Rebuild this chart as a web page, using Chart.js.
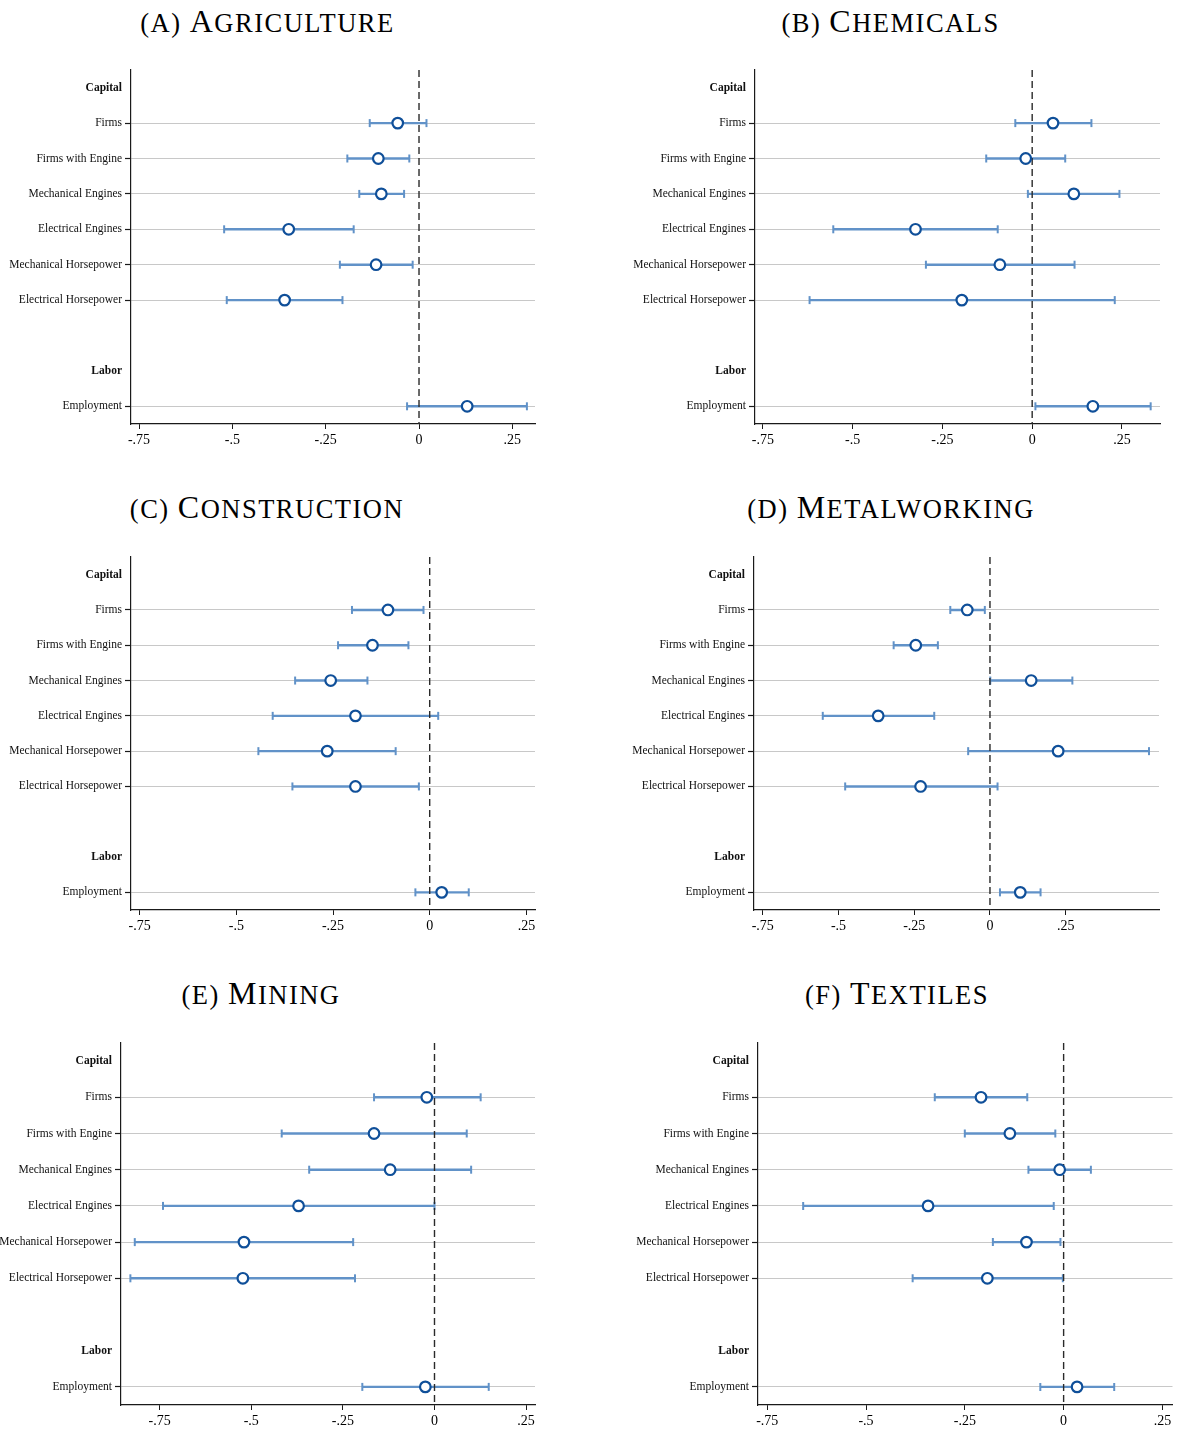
<!DOCTYPE html>
<html>
<head>
<meta charset="utf-8">
<script src="https://cdn.jsdelivr.net/npm/chart.js@4/dist/chart.umd.min.js"></script>
<style>
  html, body { margin: 0; padding: 0; background: #fff; }
  body { width: 1180px; height: 1430px; position: relative; overflow: hidden;
         font-family: 'Liberation Serif', 'Times New Roman', serif; }
  canvas { position: absolute; }
  .ttl { position: absolute; transform: translate(-50%, -50%); white-space: nowrap;
         color: #000; letter-spacing: 1.5px; line-height: 1; }
  .ttl .cap { font-size: 32px; }
  .ttl .sc { font-size: 26.5px; }
</style>
</head>
<body>
<script>
// ---- data ----
const panelLetters = ['A', 'B', 'C', 'D', 'E', 'F'];
const sectorNames = ['Agriculture', 'Chemicals', 'Construction', 'Metalworking', 'Mining', 'Textiles'];

const rowLabels = ['Capital', 'Firms', 'Firms with Engine', 'Mechanical Engines', 'Electrical Engines',
                   'Mechanical Horsepower', 'Electrical Horsepower', '', 'Labor', 'Employment'];
const headerRows = ['Capital', 'Labor'];
const variables = ['Firms', 'Firms with Engine', 'Mechanical Engines', 'Electrical Engines',
                   'Mechanical Horsepower', 'Electrical Horsepower', 'Employment'];

const xTickValues = [-0.75, -0.5, -0.25, 0, 0.25];
const xTickLabels = ['-.75', '-.5', '-.25', '0', '.25'];

// point estimates and 95% confidence bounds, in the order of `variables`
const agricultureCoef = [-0.057, -0.109, -0.101, -0.349, -0.115, -0.360, 0.129];
const agricultureLo   = [-0.132, -0.192, -0.160, -0.522, -0.212, -0.515, -0.032];
const agricultureHi   = [ 0.020, -0.026, -0.040, -0.175, -0.017, -0.205, 0.289];

const chemicalsCoef = [ 0.058, -0.018,  0.116, -0.325, -0.090, -0.196, 0.169];
const chemicalsLo   = [-0.047, -0.128, -0.012, -0.554, -0.296, -0.620, 0.009];
const chemicalsHi   = [ 0.165,  0.092,  0.243, -0.096,  0.118,  0.230, 0.330];

const constructionCoef = [-0.108, -0.148, -0.256, -0.192, -0.265, -0.192,  0.031];
const constructionLo   = [-0.201, -0.237, -0.348, -0.406, -0.443, -0.355, -0.037];
const constructionHi   = [-0.016, -0.055, -0.161,  0.022, -0.088, -0.028,  0.101];

const metalworkingCoef = [-0.075, -0.245, 0.136, -0.369,  0.225, -0.229, 0.100];
const metalworkingLo   = [-0.131, -0.318, 0.001, -0.552, -0.072, -0.478, 0.033];
const metalworkingHi   = [-0.017, -0.172, 0.272, -0.184,  0.525,  0.025, 0.167];

const miningCoef = [-0.021, -0.165, -0.121, -0.371, -0.520, -0.523, -0.025];
const miningLo   = [-0.165, -0.417, -0.342, -0.741, -0.818, -0.830, -0.197];
const miningHi   = [ 0.126,  0.088,  0.100,  0.000, -0.222, -0.217,  0.148];

const textilesCoef = [-0.209, -0.136, -0.010, -0.343, -0.094, -0.193,  0.034];
const textilesLo   = [-0.326, -0.250, -0.089, -0.659, -0.179, -0.382, -0.059];
const textilesHi   = [-0.092, -0.021,  0.069, -0.025, -0.008, -0.002,  0.128];

const panelSeries = [
  { coef: agricultureCoef,  lo: agricultureLo,  hi: agricultureHi },
  { coef: chemicalsCoef,    lo: chemicalsLo,    hi: chemicalsHi },
  { coef: constructionCoef, lo: constructionLo, hi: constructionHi },
  { coef: metalworkingCoef, lo: metalworkingLo, hi: metalworkingHi },
  { coef: miningCoef,       lo: miningLo,       hi: miningHi },
  { coef: textilesCoef,     lo: textilesLo,     hi: textilesHi }
];

// ---- layout: canvas box [left, top, width, height], plot area [left, right, top, bottom] ----
const panelLayout = [
  { canvas: [0, 50, 560, 420],    plot: [131, 535, 70, 424],     xRange: [-0.7715, 0.3107], title: [267.5, 21] },
  { canvas: [600, 50, 580, 420],  plot: [755, 1160, 70, 424],    xRange: [-0.7720, 0.3560], title: [890.5, 21] },
  { canvas: [0, 537, 560, 420],   plot: [131, 535, 557, 910],    xRange: [-0.7724, 0.2723], title: [267, 507] },
  { canvas: [600, 537, 580, 420], plot: [754, 1159, 557, 910],   xRange: [-0.7790, 0.5580], title: [891, 507] },
  { canvas: [0, 1023, 560, 407],  plot: [121, 535, 1043, 1405],  xRange: [-0.8556, 0.2743], title: [261, 993] },
  { canvas: [600, 1023, 580, 407],plot: [758, 1173, 1043, 1405], xRange: [-0.7733, 0.2755], title: [897, 993] }
];

const FONT = "'Liberation Serif', 'Times New Roman', serif";
const CI_COLOR = '#6192c8';
const MARKER_COLOR = '#0f4f99';
const GRID_COLOR = '#c8c8c8';
const AXIS_COLOR = '#1a1a1a';
const CLEAR = 'rgba(0,0,0,0)';

function isDataRow(v) {
  const lab = rowLabels[v];
  return lab !== undefined && lab !== '' && !headerRows.includes(lab);
}

function addTitle(i) {
  const [cx, cy] = panelLayout[i].title;
  const name = sectorNames[i];
  const div = document.createElement('div');
  div.className = 'ttl';
  div.style.left = cx + 'px';
  div.style.top = cy + 'px';
  div.innerHTML = '<span class="sc">(' + panelLetters[i] + ') </span>' +
                  '<span class="cap">' + name.charAt(0).toUpperCase() + '</span>' +
                  '<span class="sc">' + name.slice(1).toUpperCase() + '</span>';
  document.body.appendChild(div);
}

function drawPanel(i) {
  const lay = panelLayout[i];
  const [cl, ct, cw, ch] = lay.canvas;
  const [pl, pr, pt, pb] = lay.plot;
  const s = panelSeries[i];

  const canvas = document.createElement('canvas');
  canvas.width = cw; canvas.height = ch;
  canvas.style.left = cl + 'px'; canvas.style.top = ct + 'px';
  canvas.style.width = cw + 'px'; canvas.style.height = ch + 'px';
  document.body.appendChild(canvas);

  const rowOf = v => rowLabels.indexOf(v);

  const datasets = [];
  // estimates: hollow circles
  datasets.push({
    data: variables.map((v, k) => ({ x: s.coef[k], y: rowOf(v) })),
    showLine: false,
    pointStyle: 'circle',
    pointRadius: 5.3,
    pointBorderWidth: 2.2,
    pointBorderColor: MARKER_COLOR,
    pointBackgroundColor: '#ffffff',
    order: 0
  });
  // reference line at zero
  datasets.push({
    data: [{ x: 0, y: -0.5 }, { x: 0, y: 9.5 }],
    showLine: true,
    borderColor: '#2a2a2a',
    borderWidth: 1.4,
    borderDash: [7, 4],
    pointRadius: 0,
    order: 1
  });
  // confidence intervals with end caps
  variables.forEach((v, k) => {
    datasets.push({
      data: [{ x: s.lo[k], y: rowOf(v) }, { x: s.hi[k], y: rowOf(v) }],
      showLine: true,
      borderColor: CI_COLOR,
      borderWidth: 2.4,
      pointStyle: 'line',
      pointRotation: 90,
      pointRadius: 4,
      pointBorderWidth: 2,
      pointBorderColor: CI_COLOR,
      order: 2
    });
  });

  new Chart(canvas, {
    type: 'scatter',
    data: { datasets },
    options: {
      responsive: false,
      animation: false,
      events: [],
      layout: { padding: { left: 0, top: pt - ct, right: cl + cw - pr, bottom: 0 } },
      plugins: { legend: { display: false }, tooltip: { enabled: false } },
      scales: {
        x: {
          type: 'linear',
          min: lay.xRange[0],
          max: lay.xRange[1],
          afterBuildTicks: ax => { ax.ticks = xTickValues.map(v => ({ value: v })); },
          afterFit: ax => { ax.height = ct + ch - pb; },
          ticks: {
            autoSkip: false, maxRotation: 0, padding: 3, color: '#000',
            font: { family: FONT, size: 14 },
            callback: v => xTickLabels[xTickValues.indexOf(v)]
          },
          grid: { drawOnChartArea: false, drawTicks: true, tickLength: 5, tickColor: AXIS_COLOR, tickWidth: 1 },
          border: { display: true, color: AXIS_COLOR, width: 1.2 }
        },
        y: {
          type: 'linear',
          reverse: true,
          min: -0.5,
          max: 9.5,
          afterBuildTicks: ax => { ax.ticks = rowLabels.map((_, r) => ({ value: r })); },
          afterFit: ax => { ax.width = pl - cl; },
          ticks: {
            autoSkip: false, padding: 3, color: '#111',
            font: ctx => ({
              family: FONT, size: 11.5,
              weight: (ctx.tick && headerRows.includes(rowLabels[ctx.tick.value])) ? 'bold' : 'normal'
            }),
            callback: v => rowLabels[v] || ''
          },
          grid: {
            drawOnChartArea: true,
            color: ctx => (ctx.tick && isDataRow(ctx.tick.value)) ? GRID_COLOR : CLEAR,
            lineWidth: 1,
            tickLength: 6,
            tickColor: ctx => (ctx.tick && isDataRow(ctx.tick.value)) ? AXIS_COLOR : CLEAR,
            tickWidth: 1.2
          },
          border: { display: true, color: AXIS_COLOR, width: 1.2 }
        }
      }
    }
  });
}

for (let i = 0; i < sectorNames.length; i++) {
  addTitle(i);
  drawPanel(i);
}
</script>
</body>
</html>
